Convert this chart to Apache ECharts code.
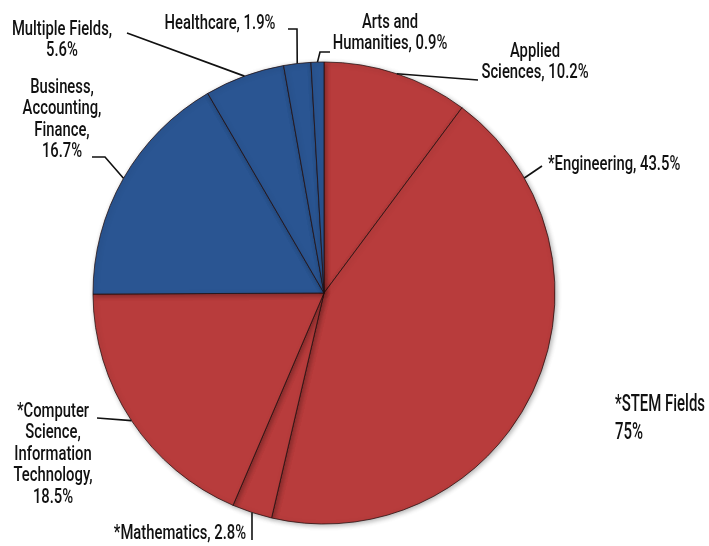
<!DOCTYPE html>
<html><head><meta charset="utf-8">
<script src="https://cdn.jsdelivr.net/npm/echarts@6/dist/echarts.min.js"></script>
<style>html,body{margin:0;padding:0;background:#fff}#c{width:709px;height:546px}</style>
</head><body><div id="c"></div>
<script>
// ---- data ----
const categories = ["Applied\nSciences", "*Engineering", "*Mathematics", "*Computer\nScience,\nInformation\nTechnology", "Business,\nAccounting,\nFinance", "Multiple Fields", "Healthcare", "Arts and\nHumanities"];
const values = [10.2, 43.5, 2.8, 18.5, 16.7, 5.6, 1.9, 0.9];
const groups = ["stem", "stem", "stem", "stem", "other", "other", "other", "other"];
const stemLabel = ["*STEM Fields", "75%"];

// ---- style / layout ----
const FONT = 'Roboto, "Liberation Sans", sans-serif';
const SX = 0.74;          // horizontal condensing of the text
const LH = 21.5;
const CX = 324, CY = 293, R = 231;
const colorFor = g => g === "stem" ? "#B83C3C" : "#2A5592";
const valueSep = [", ", ", ", ", ", ",\n", ",\n", ",\n", ", ", ", "];
// label block: x, top y, align
const labelPos = [
  {x: 535, y: 41, align: "center"},
  {x: 548, y: 154, align: "left"},
  {x: 180, y: 523, align: "center"},
  {x: 53, y: 401, align: "center"},
  {x: 62, y: 77, align: "center"},
  {x: 62, y: 19, align: "center"},
  {x: 220, y: 13, align: "center"},
  {x: 390, y: 12, align: "center"}
];
// leader line: where on the slice (fraction of its arc) and the label-side points
const leaderFrac = [0.5, 0.15, 0.5, 0.5, 0.5, 0.5, 0.5, 0.5];
const leaderPts = [
  [[478, 80]],
  [[542, 166]],
  [[252, 540]],
  [[97, 418]],
  [[105, 157], [92, 157]],
  [[127, 33]],
  [[297, 29], [288, 29]],
  [[320, 52], [330, 52]]
];

const total = values.reduce((a, b) => a + b, 0);
const graphics = [];
let acc = 0;
values.forEach((v, i) => {
  const a = (acc + v * leaderFrac[i]) / total * 2 * Math.PI;
  acc += v;
  const ax = CX + R * Math.sin(a), ay = CY - R * Math.cos(a);
  graphics.push({
    type: "polyline", silent: true, z: 10,
    shape: {points: [[ax, ay]].concat(leaderPts[i])},
    style: {stroke: "#111", lineWidth: 1.6, fill: null}
  });
  graphics.push({
    type: "text", x: labelPos[i].x, y: labelPos[i].y, scaleX: SX, z: 10,
    style: {
      x: 0, y: 0,
      text: categories[i] + valueSep[i] + v + "%",
      font: "500 20px " + FONT, fill: "#111",
      align: labelPos[i].align, verticalAlign: "top", lineHeight: LH
    }
  });
});
graphics.push({
  type: "text", x: 615, y: 391, scaleX: 0.65, z: 10,
  style: {x: 0, y: 0, text: stemLabel.join("\n"), font: "500 23px " + FONT, fill: "#111", lineHeight: 28, align: "left", verticalAlign: "top"}
});

const chart = echarts.init(document.getElementById("c"));
chart.setOption({
  animation: false,
  backgroundColor: "#fff",
  graphic: graphics,
  series: [{
    type: "pie",
    center: [CX, CY],
    radius: R,
    startAngle: 90,
    clockwise: true,
    data: categories.map((c, i) => ({name: c, value: values[i], itemStyle: {color: colorFor(groups[i])}})),
    itemStyle: {borderColor: "rgba(35,15,15,0.75)", borderWidth: 1, shadowBlur: 5, shadowColor: "rgba(0,0,0,0.3)", shadowOffsetX: 1.5, shadowOffsetY: 1.5},
    label: {show: false},
    labelLine: {show: false},
    emphasis: {disabled: true}
  }]
});
</script></body></html>
